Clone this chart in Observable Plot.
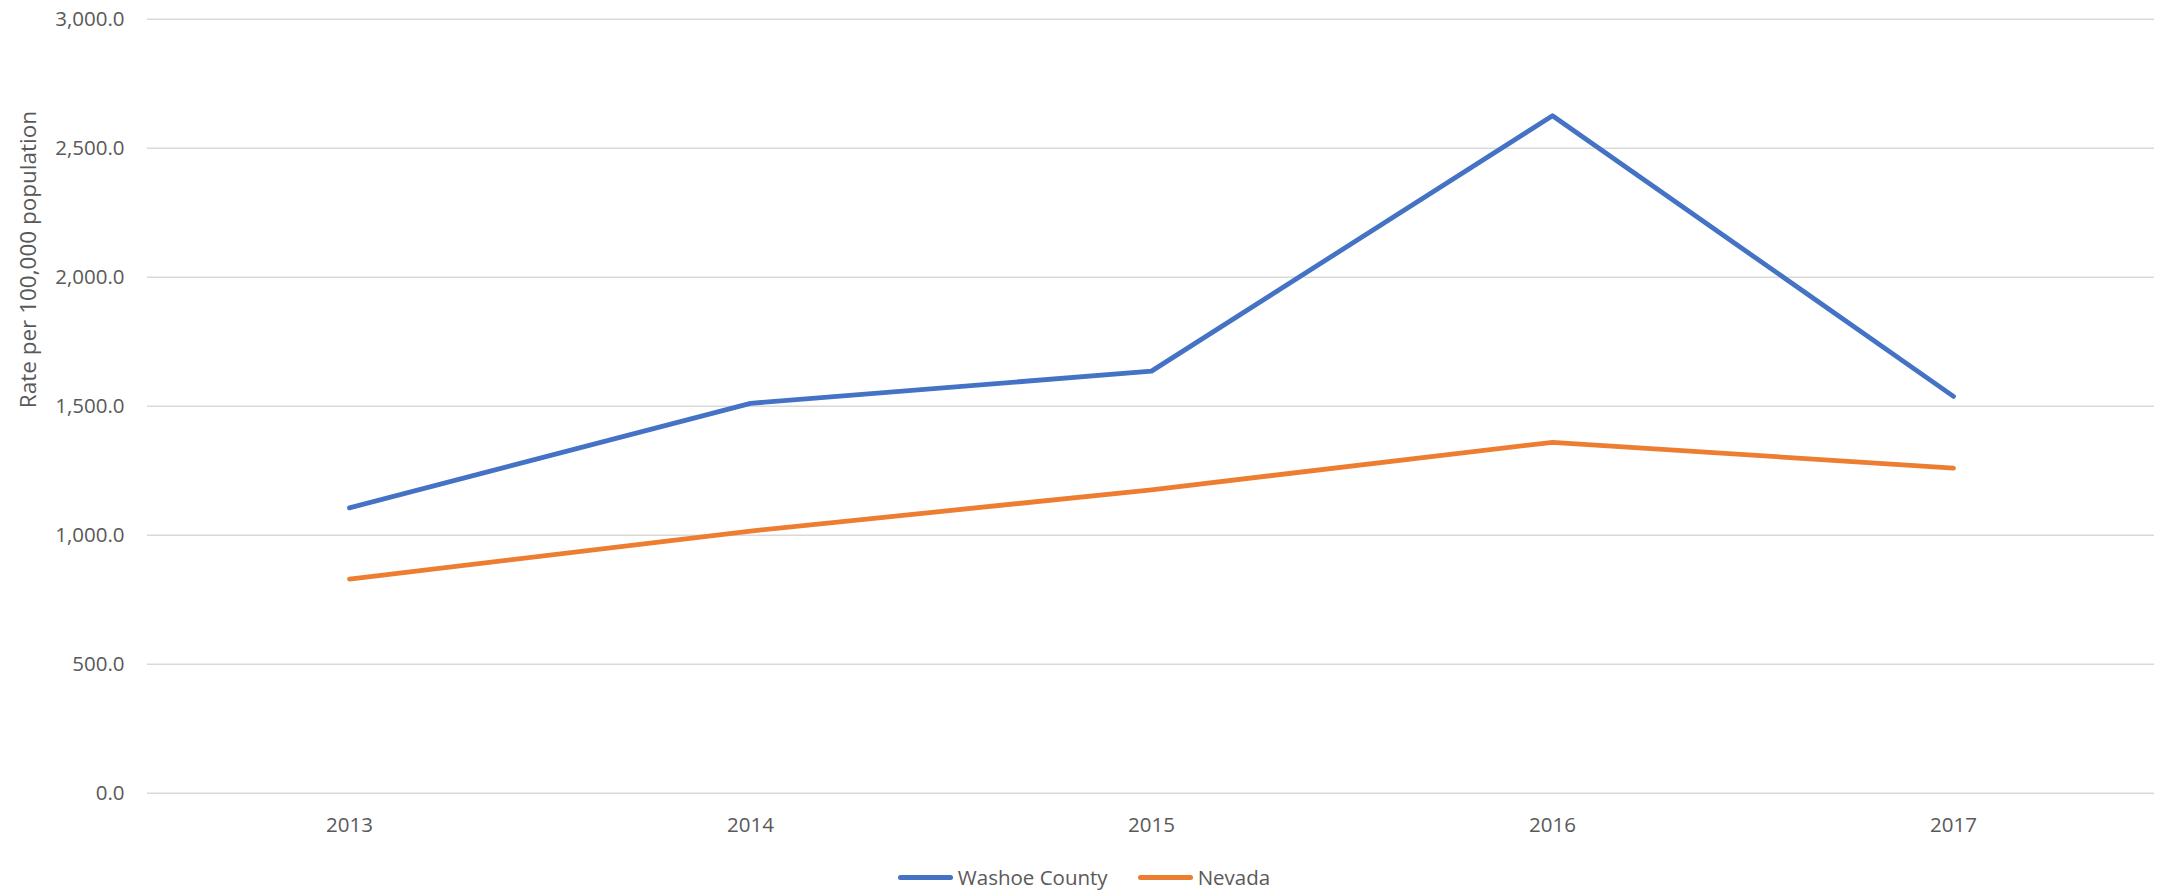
<!DOCTYPE html>
<html>
<head>
<meta charset="utf-8">
<script src="https://cdn.jsdelivr.net/npm/d3@7"></script>
<script src="https://cdn.jsdelivr.net/npm/@observablehq/plot@0.6"></script>
<style>
  html, body { margin: 0; padding: 0; background: #fff; }
  body { width: 2168px; height: 892px; overflow: hidden; font-family: "Open Sans", sans-serif; }
  #legend { display: flex; justify-content: center; align-items: center; height: 44px; font-size: 20.5px; color: #595959; }
  .item { display: flex; align-items: center; margin: 0 15px; }
  .swatch { width: 55px; height: 5px; border-radius: 3px; margin-right: 5px; }
</style>
</head>
<body>
<div id="chart"></div>
<div id="legend"></div>
<script>
const years = ["2013", "2014", "2015", "2016", "2017"];
const washoe = [1106, 1511, 1636, 2626, 1538];
const nevada = [830, 1016, 1176, 1360, 1260];
const seriesNames = ["Washoe County", "Nevada"];
const seriesColors = ["#4472C4", "#ED7D31"];
const yTicks = [0, 500, 1000, 1500, 2000, 2500, 3000];
const yLabel = "Rate per 100,000 population";

const data = [];
years.forEach((y, i) => data.push({year: y, value: washoe[i], series: seriesNames[0]}));
years.forEach((y, i) => data.push({year: y, value: nevada[i], series: seriesNames[1]}));

const chart = Plot.plot({
  width: 2168,
  height: 855,
  marginLeft: 147,
  marginRight: 14,
  marginTop: 18.7,
  marginBottom: 62.3,
  style: {fontFamily: "'Open Sans', sans-serif", fontSize: "20.5px", color: "#595959", background: "#fff"},
  x: {type: "point", domain: years, padding: 0.5},
  y: {domain: [0, 3000]},
  color: {domain: seriesNames, range: seriesColors},
  marks: [
    Plot.gridY(yTicks, {stroke: "#d9d9d9", strokeOpacity: 1, strokeWidth: 1.5}),
    Plot.axisY({ticks: yTicks, tickFormat: d3.format(",.1f"), tickSize: 0, tickPadding: 23,
      label: null, fill: "#595959"}),
    Plot.text([yLabel], {text: d => d, frameAnchor: "left", rotate: -90, dx: -119, dy: 2,
      fontSize: 22.5, fill: "#595959"}),
    Plot.axisX({tickSize: 0, tickPadding: 24, label: null, fill: "#595959"}),
    Plot.line(data, {x: "year", y: "value", z: "series", stroke: "series", strokeWidth: 4.8,
      strokeLinecap: "round", strokeLinejoin: "round"})
  ]
});
document.getElementById("chart").appendChild(chart);

const legend = document.getElementById("legend");
seriesNames.forEach((n, i) => {
  const item = document.createElement("div");
  item.className = "item";
  const sw = document.createElement("div");
  sw.className = "swatch";
  sw.style.background = seriesColors[i];
  const t = document.createElement("span");
  t.textContent = n;
  item.appendChild(sw);
  item.appendChild(t);
  legend.appendChild(item);
});
</script>
</body>
</html>
